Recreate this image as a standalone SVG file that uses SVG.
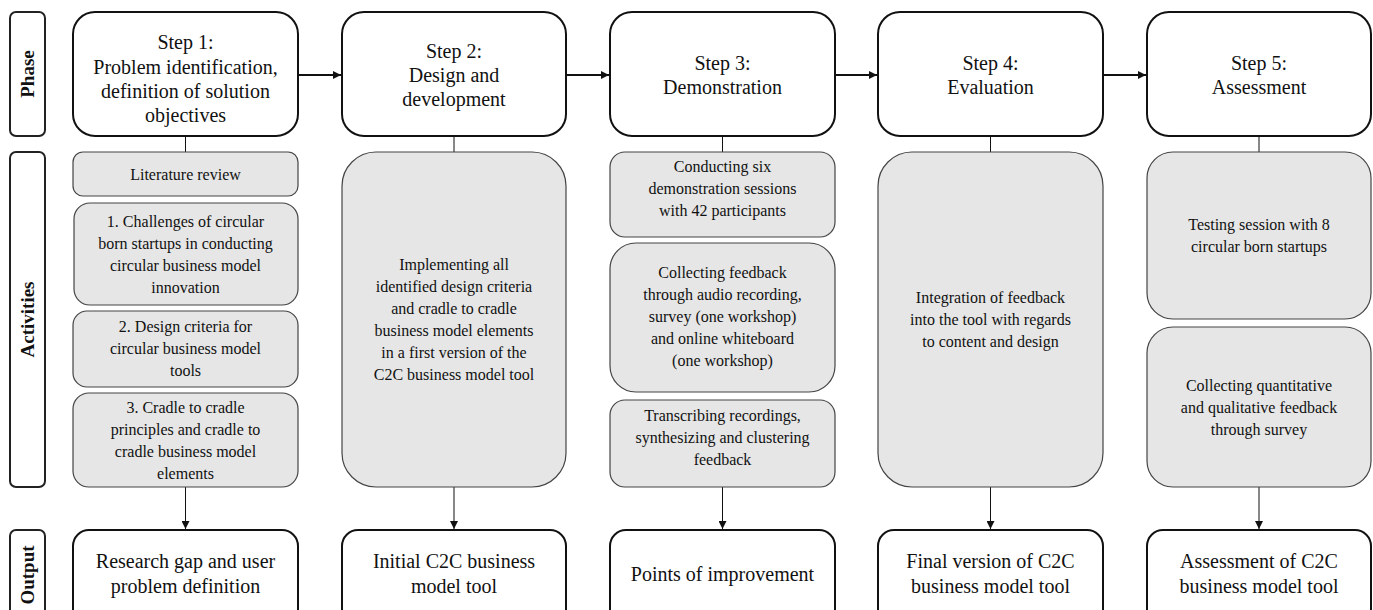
<svg xmlns="http://www.w3.org/2000/svg" width="1373" height="610" viewBox="0 0 1373 610">
<style>
.lbl{fill:#fff;stroke:#222;stroke-width:2}
.step{fill:#fff;stroke:#111;stroke-width:2}
.act{fill:#e6e6e6;stroke:#444;stroke-width:1.2}
.out{fill:#fff;stroke:#111;stroke-width:2}
text{font-family:"Liberation Serif","Times New Roman","DejaVu Serif",serif;fill:#111;text-anchor:middle}
.t19{font-size:20px}
.t16{font-size:16px}
.side{font-size:19px;font-weight:bold}
.conn{stroke:#111;fill:none}
</style>
<defs>
<marker id="ah" viewBox="0 0 10 10" refX="10" refY="5" markerWidth="4" markerHeight="4" orient="auto" markerUnits="strokeWidth"><path d="M0,0 L10,5 L0,10 z" fill="#111"/></marker>
<marker id="ahs" viewBox="0 0 10 10" refX="10" refY="5" markerWidth="8" markerHeight="8" orient="auto" markerUnits="strokeWidth"><path d="M0,0 L10,5 L0,10 z" fill="#111"/></marker>
</defs>
<rect width="1373" height="610" fill="#fff"/>

<g id="labels">
<g id="lbl-phase"><rect class="lbl" x="10" y="12" width="35" height="124" rx="6"/><text class="side" transform="translate(34,74) rotate(-90)">Phase</text></g>
<g id="lbl-activities"><rect class="lbl" x="10" y="152" width="35" height="335" rx="6"/><text class="side" transform="translate(34,319.5) rotate(-90)">Activities</text></g>
<g id="lbl-output"><rect class="lbl" x="10" y="530" width="35" height="100" rx="6"/><text class="side" transform="translate(34,575) rotate(-90)">Output</text></g>
</g>

<g id="connectors">
<line class="conn" x1="298" y1="75" x2="341" y2="75" stroke-width="2" marker-end="url(#ah)"/>
<line class="conn" x1="566" y1="75" x2="609" y2="75" stroke-width="2" marker-end="url(#ah)"/>
<line class="conn" x1="835" y1="75" x2="877" y2="75" stroke-width="2" marker-end="url(#ah)"/>
<line class="conn" x1="1103" y1="75" x2="1146" y2="75" stroke-width="2" marker-end="url(#ah)"/>
<line class="conn" x1="185.5" y1="136" x2="185.5" y2="152" stroke-width="1"/>
<line class="conn" x1="454" y1="136" x2="454" y2="152" stroke-width="1"/>
<line class="conn" x1="722.5" y1="136" x2="722.5" y2="152" stroke-width="1"/>
<line class="conn" x1="990.5" y1="136" x2="990.5" y2="152" stroke-width="1"/>
<line class="conn" x1="1259" y1="136" x2="1259" y2="152" stroke-width="1"/>
<line class="conn" x1="185.5" y1="487" x2="185.5" y2="529" stroke-width="1" marker-end="url(#ahs)"/>
<line class="conn" x1="454" y1="487" x2="454" y2="529" stroke-width="1" marker-end="url(#ahs)"/>
<line class="conn" x1="722.5" y1="487" x2="722.5" y2="529" stroke-width="1" marker-end="url(#ahs)"/>
<line class="conn" x1="990.5" y1="487" x2="990.5" y2="529" stroke-width="1" marker-end="url(#ahs)"/>
<line class="conn" x1="1259" y1="487" x2="1259" y2="529" stroke-width="1" marker-end="url(#ahs)"/>
</g>

<g id="step1"><rect class="step" x="73" y="12" width="225" height="124" rx="22"/>
<text class="t19"><tspan x="185.5" y="49">Step 1:</tspan><tspan x="185.5" y="74">Problem identification,</tspan><tspan x="185.5" y="98">definition of solution</tspan><tspan x="185.5" y="122">objectives</tspan></text></g>
<g id="step2"><rect class="step" x="342" y="12" width="224" height="124" rx="22"/>
<text class="t19"><tspan x="454" y="58">Step 2:</tspan><tspan x="454" y="82">Design and</tspan><tspan x="454" y="106">development</tspan></text></g>
<g id="step3"><rect class="step" x="610" y="12" width="225" height="124" rx="22"/>
<text class="t19"><tspan x="722.5" y="70">Step 3:</tspan><tspan x="722.5" y="94">Demonstration</tspan></text></g>
<g id="step4"><rect class="step" x="878" y="12" width="225" height="124" rx="22"/>
<text class="t19"><tspan x="990.5" y="70">Step 4:</tspan><tspan x="990.5" y="94">Evaluation</tspan></text></g>
<g id="step5"><rect class="step" x="1147" y="12" width="224" height="124" rx="22"/>
<text class="t19"><tspan x="1259" y="70">Step 5:</tspan><tspan x="1259" y="94">Assessment</tspan></text></g>

<g id="act1-lit"><rect class="act" x="73" y="152" width="225" height="44" rx="10"/>
<text class="t16"><tspan x="185.5" y="180">Literature review</tspan></text></g>
<g id="act1-a"><rect class="act" x="74" y="203" width="224" height="102" rx="16"/>
<text class="t16"><tspan x="185.5" y="227">1. Challenges of circular</tspan><tspan x="185.5" y="249">born startups in conducting</tspan><tspan x="185.5" y="271">circular business model</tspan><tspan x="185.5" y="293">innovation</tspan></text></g>
<g id="act1-b"><rect class="act" x="73" y="311" width="225" height="76" rx="14"/>
<text class="t16"><tspan x="185.5" y="332">2. Design criteria for</tspan><tspan x="185.5" y="354">circular business model</tspan><tspan x="185.5" y="376">tools</tspan></text></g>
<g id="act1-c"><rect class="act" x="73" y="393" width="225" height="94" rx="16"/>
<text class="t16"><tspan x="185.5" y="413">3. Cradle to cradle</tspan><tspan x="185.5" y="435">principles and cradle to</tspan><tspan x="185.5" y="457">cradle business model</tspan><tspan x="185.5" y="479">elements</tspan></text></g>

<g id="act2"><rect class="act" x="342" y="152" width="224" height="335" rx="34"/>
<text class="t16"><tspan x="454" y="270">Implementing all</tspan><tspan x="454" y="292">identified design criteria</tspan><tspan x="454" y="314">and cradle to cradle</tspan><tspan x="454" y="336">business model elements</tspan><tspan x="454" y="358">in a first version of the</tspan><tspan x="454" y="380">C2C business model tool</tspan></text></g>

<g id="act3-a"><rect class="act" x="610" y="152" width="225" height="85" rx="15"/>
<text class="t16"><tspan x="722.5" y="172">Conducting six</tspan><tspan x="722.5" y="194">demonstration sessions</tspan><tspan x="722.5" y="216">with 42 participants</tspan></text></g>
<g id="act3-b"><rect class="act" x="610" y="243" width="225" height="149" rx="26"/>
<text class="t16"><tspan x="722.5" y="278">Collecting feedback</tspan><tspan x="722.5" y="300">through audio recording,</tspan><tspan x="722.5" y="322">survey (one workshop)</tspan><tspan x="722.5" y="344">and online whiteboard</tspan><tspan x="722.5" y="366">(one workshop)</tspan></text></g>
<g id="act3-c"><rect class="act" x="610" y="400" width="225" height="87" rx="15"/>
<text class="t16"><tspan x="722.5" y="421">Transcribing recordings,</tspan><tspan x="722.5" y="443">synthesizing and clustering</tspan><tspan x="722.5" y="465">feedback</tspan></text></g>

<g id="act4"><rect class="act" x="878" y="152" width="225" height="335" rx="34"/>
<text class="t16"><tspan x="990.5" y="303">Integration of feedback</tspan><tspan x="990.5" y="325">into the tool with regards</tspan><tspan x="990.5" y="347">to content and design</tspan></text></g>

<g id="act5-a"><rect class="act" x="1147" y="152" width="224" height="167" rx="26"/>
<text class="t16"><tspan x="1259" y="230">Testing session with 8</tspan><tspan x="1259" y="252">circular born startups</tspan></text></g>
<g id="act5-b"><rect class="act" x="1147" y="327" width="224" height="160" rx="26"/>
<text class="t16"><tspan x="1259" y="391">Collecting quantitative</tspan><tspan x="1259" y="413">and qualitative feedback</tspan><tspan x="1259" y="435">through survey</tspan></text></g>

<g id="out1"><rect class="out" x="73" y="530" width="225" height="100" rx="16"/>
<text class="t19"><tspan x="185.5" y="568">Research gap and user</tspan><tspan x="185.5" y="593">problem definition</tspan></text></g>
<g id="out2"><rect class="out" x="342" y="530" width="224" height="100" rx="16"/>
<text class="t19"><tspan x="454" y="568">Initial C2C business</tspan><tspan x="454" y="593">model tool</tspan></text></g>
<g id="out3"><rect class="out" x="610" y="530" width="225" height="100" rx="16"/>
<text class="t19"><tspan x="722.5" y="581">Points of improvement</tspan></text></g>
<g id="out4"><rect class="out" x="878" y="530" width="225" height="100" rx="16"/>
<text class="t19"><tspan x="990.5" y="568">Final version of C2C</tspan><tspan x="990.5" y="593">business model tool</tspan></text></g>
<g id="out5"><rect class="out" x="1147" y="530" width="224" height="100" rx="16"/>
<text class="t19"><tspan x="1259" y="568">Assessment of C2C</tspan><tspan x="1259" y="593">business model tool</tspan></text></g>
</svg>
